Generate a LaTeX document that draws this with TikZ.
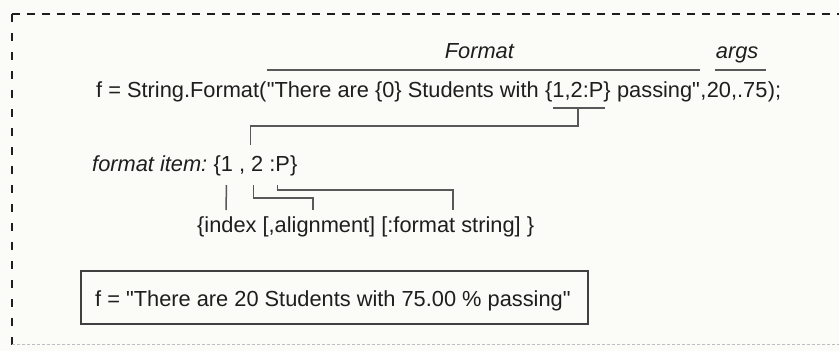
\documentclass[tikz,border=0pt]{standalone}
\usepackage{fontspec}
\setmainfont{Liberation Sans}[Ligatures=TeXOff]
\usetikzlibrary{positioning, calc}
\definecolor{paper}{HTML}{FBFBF7}
\definecolor{ink}{HTML}{1E1E1E}
\definecolor{rule}{HTML}{585858}
\newcommand{\figfont}{\fontsize{21.8}{26}\selectfont}

\begin{document}
\begin{tikzpicture}[x=1pt, y=-1pt,
  txt/.style={inner sep=0pt, anchor=base west, text=ink, font=\figfont},
  lbl/.style={inner sep=0pt, anchor=base, text=ink, font=\figfont\itshape},
  brk/.style={draw=rule, line width=1.5pt},
  frame/.style={draw=ink, line width=1.4pt, dash pattern=on 8pt off 7pt}]
  \fill[paper] (0,0) rectangle (839,351);
  \useasboundingbox (0,0) rectangle (839,351);

  % dashed frame, open to the right
  \draw[frame] (845,14) -- (12,14);
  \draw[frame, dash pattern=on 8pt off 11pt] (12,14) -- (12,351);
  \draw[draw=rule!40, line width=1pt, dash pattern=on 3pt off 2pt] (12,344) -- (845,344);

  % the call
  \node[txt] (head) at (96,97) {f = String.Format(};
  \node[txt, base right=0pt of head] (lead) {"There are \{0\} Students with};
  \node[txt, base right=6.06pt of lead] (item) {\{1,2:P\}};
  \node[txt, base right=0pt of item] (trail) {~passing"};
  \node[txt, base right=0pt of trail] (comma) {,};
  \node[txt, base right=0pt of comma] (argv) {20,.75};
  \node[txt, base right=0pt of argv] (close) {);};

  \coordinate (fmtmid) at ($(lead.west)!0.5!(trail.east)$);
  \node[lbl] (fmtlbl) at ($(fmtmid |- 0,58)+(-4,0)$) {Format};
  \node[lbl] (argslbl) at (argv.base |- 0,58) {args};

  \draw[brk] ($(lead.base west)+(0,-27)$) -- ($(trail.base east)+(0,-27)$);
  \draw[brk] ($(argv.base west)+(8,-27)$) -- ($(argv.base east)+(-2,-27)$);
  \draw[brk] ($(item.base west)+(8,11)$) -- ($(item.base east)+(-6,11)$);

  % the format item
  \node[txt, font=\figfont\itshape] (fmtkey) at (92,171) {format item:};
  \node[txt, base right=6pt of fmtkey] (fmtval) {\{1 , 2 :P\}};
  \coordinate (twoTop) at ($(fmtval.base west)+(37,-26)$);
  \coordinate (oneBot) at ($(fmtval.base west)+(13,14)$);
  \coordinate (twoBot) at ($(fmtval.base west)+(40,14)$);
  \coordinate (pBot) at ($(fmtval.base west)+(64,14)$);

  \draw[brk] ($(item.base)+(0,11)$) -- ++(0,18) -| (twoTop);

  % syntax line
  \node[txt] (syntax) at (197,232) {\{index [,alignment] [:format string] \}};
  \coordinate (indexTop) at ($(syntax.base west)+(29,-22)$);
  \coordinate (alignTop) at ($(syntax.base west)+(116,-22)$);
  \coordinate (fstrTop) at ($(syntax.base west)+(256,-22)$);

  \draw[brk] (oneBot) -- (indexTop);
  \draw[brk] (twoBot) -- ++(0,13) -| (alignTop);
  \draw[brk] (pBot) -- ++(0,5) -| (fstrTop);

  % result
  \node[txt] (result) at (95,306) {f = "There are 20 Students with 75.00 \% passing"};
  \draw[draw=ink!85, line width=1.5pt] ($(result.base west)+(-14,-35)$) rectangle ($(result.base east)+(17,18)$);
\end{tikzpicture}
\end{document}
